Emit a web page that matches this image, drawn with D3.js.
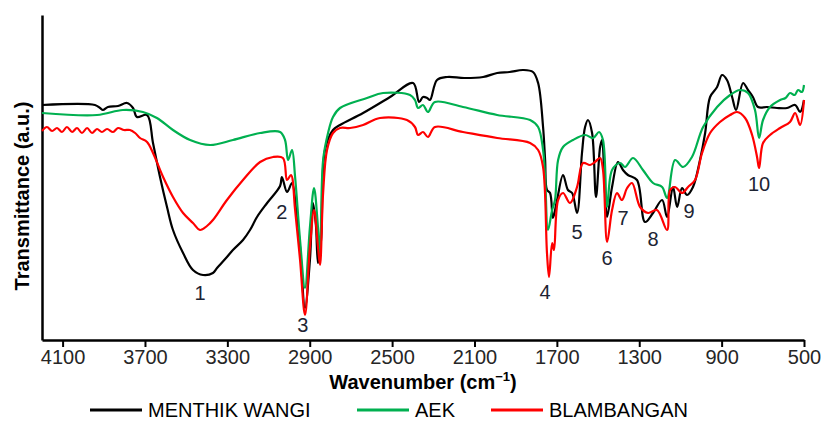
<!DOCTYPE html>
<html>
<head>
<meta charset="utf-8">
<script src="https://cdn.jsdelivr.net/npm/d3@7"></script>
<style>
body { margin: 0; background: #fff; }
text { font-family: "Liberation Sans", Arial, sans-serif; }
</style>
</head>
<body>
<svg id="chart" width="823" height="430"></svg>
<script>
// FTIR spectra of three samples : wavenumber (cm-1) vs transmittance (a.u.)

var seriesNames = ["MENTHIK WANGI", "AEK", "BLAMBANGAN"];
var seriesColors = ["#000000", "#00b050", "#ff0000"];
var xTicks = [4100, 3700, 3300, 2900, 2500, 2100, 1700, 1300, 900, 500];

// [wavenumber, transmittance a.u.]
var menthikWangi = [
  [4200,47.0],[3943,47.0],[3918,46.4],[3904,46.0],[3880,46.6],[3831,46.8],[3787,47.4],
  [3758,46.4],[3739,44.6],[3690,45.0],[3661,39.4],[3627,32.6],[3593,26.6],[3564,22.0],
  [3515,17.4],[3467,14.0],[3418,13.0],[3370,13.4],[3350,14.4],[3302,16.6],[3273,18.0],
  [3224,20.0],[3190,22.0],[3156,24.6],[3107,27.4],[3044,30.8],[3035,32.6],[3010,29.6],
  [2986,31.4],[2966,26.0],[2947,18.6],[2923,6.4],[2899,16.0],[2884,27.4],[2870,23.0],
  [2860,15.4],[2845,20.0],[2826,38.0],[2787,42.0],[2753,43.0],[2641,45.4],[2510,48.6],
  [2398,51.4],[2369,47.6],[2350,48.6],[2330,48.4],[2316,48.0],[2282,52.0],[2233,52.6],
  [2150,52.4],[2058,52.6],[1990,53.4],[1930,53.6],[1864,54.0],[1816,53.6],[1791,51.4],
  [1767,42.6],[1757,36.0],[1748,30.0],[1733,29.4],[1719,24.4],[1699,28.0],[1670,33.0],
  [1646,30.0],[1626,29.4],[1602,25.4],[1578,37.4],[1563,42.6],[1549,44.0],[1529,41.4],
  [1510,28.6],[1490,38.6],[1481,40.0],[1466,29.4],[1456,24.6],[1432,30.6],[1403,35.6],
  [1379,34.0],[1355,33.0],[1311,32.0],[1272,23.6],[1233,25.4],[1189,28.0],[1165,24.6],
  [1136,30.6],[1116,26.6],[1092,30.4],[1068,29.0],[1039,30.6],[1005,36.0],[980,41.4],
  [956,48.6],[922,50.6],[898,53.0],[874,52.0],[849,48.6],[830,46.0],[796,51.4],
  [772,50.0],[748,48.6],[723,46.6],[679,46.6],[631,46.4],[582,46.4],[543,47.0],
  [519,45.6],[500,48.0]
];

var aek = [
  [4200,45.4],[3933,45.0],[3807,46.0],[3710,45.6],[3642,44.4],[3564,42.0],[3481,40.0],
  [3384,39.0],[3273,40.0],[3141,41.4],[3044,41.6],[3020,40.0],[3005,36.0],[2986,38.0],
  [2971,32.6],[2947,20.0],[2923,10.4],[2899,22.6],[2879,30.4],[2860,22.6],[2850,17.0],
  [2835,36.0],[2811,41.4],[2787,44.6],[2753,46.4],[2622,48.4],[2544,49.4],[2413,49.0],
  [2389,48.0],[2374,46.4],[2350,47.0],[2326,45.6],[2292,47.6],[2156,46.6],[1990,45.0],
  [1830,44.0],[1791,42.6],[1767,38.0],[1757,32.6],[1743,22.0],[1723,26.0],[1709,28.0],
  [1694,36.0],[1670,38.6],[1622,40.0],[1563,41.0],[1524,40.4],[1495,41.6],[1476,40.0],
  [1456,26.6],[1432,34.0],[1393,35.4],[1369,34.6],[1330,36.4],[1282,34.0],[1233,31.4],
  [1189,30.6],[1165,28.4],[1126,36.0],[1087,34.6],[1044,36.6],[990,42.6],[922,46.6],
  [859,49.0],[811,50.0],[772,49.4],[738,46.0],[718,40.4],[699,44.0],[665,46.6],
  [616,48.0],[590,48.4],[568,49.4],[545,49.0],[529,50.0],[510,49.6],[500,51.0]
];

var blambangan = [
  [4200,41.8],[4176,42.6],[4151,41.8],[4127,42.4],[4103,41.6],[4079,42.6],[4054,41.6],
  [4030,42.4],[4006,41.4],[3981,42.4],[3957,41.4],[3933,42.2],[3909,41.6],[3884,42.2],
  [3855,41.6],[3831,42.4],[3802,42.0],[3773,42.0],[3748,41.4],[3724,40.4],[3690,39.6],
  [3661,37.4],[3612,32.6],[3564,28.6],[3515,25.4],[3467,23.4],[3433,22.0],[3399,22.8],
  [3370,24.0],[3302,28.0],[3224,32.0],[3141,35.6],[3078,36.6],[3030,36.4],[3010,32.0],
  [2991,33.0],[2971,26.0],[2947,16.0],[2923,5.0],[2899,18.6],[2879,26.0],[2860,18.6],
  [2850,15.0],[2835,29.4],[2816,38.0],[2787,41.4],[2753,42.4],[2704,42.4],[2641,43.0],
  [2559,44.4],[2428,44.0],[2389,42.6],[2374,41.0],[2350,41.6],[2326,40.6],[2292,42.6],
  [2156,41.6],[1990,40.4],[1830,39.4],[1791,38.0],[1767,34.6],[1748,17.4],[1738,12.6],
  [1723,19.4],[1714,18.0],[1694,28.0],[1670,29.4],[1636,27.4],[1602,30.6],[1573,35.4],
  [1539,35.0],[1515,35.6],[1490,36.4],[1476,34.0],[1456,19.6],[1432,26.0],[1408,29.4],
  [1384,28.0],[1359,30.4],[1335,31.4],[1296,26.6],[1257,25.4],[1214,26.0],[1165,22.0],
  [1150,30.0],[1126,30.6],[1092,29.4],[1063,30.6],[1029,32.0],[995,37.4],[956,41.4],
  [908,43.6],[859,45.0],[825,45.6],[786,44.4],[752,41.0],[728,36.6],[718,34.4],
  [699,39.4],[665,41.0],[616,42.4],[568,43.6],[543,45.4],[519,43.0],[500,48.0]
];

var peakLabels = ["1", "2", "3", "4", "5", "6", "7", "8", "9", "10"];
var peakPos = [[3433,9.4],[3035,25.6],[2933,3.0],[1757,9.6],[1602,21.6],
               [1456,16.4],[1379,24.4],[1233,20.2],[1058,25.8],[718,31.2]];

var svg = d3.select("#chart");

var x = d3.scaleLinear().domain([4200, 500]).range([42, 804]);
var y = d3.scaleLinear().domain([0, 65]).range([340, 15]);

// axes
var xAxis = svg.append("g")
    .attr("transform", "translate(0,340)")
    .call(d3.axisBottom(x).tickValues(xTicks).tickFormat(d3.format("d"))
          .tickSize(7).tickSizeOuter(0).tickPadding(3));
xAxis.select(".domain").attr("stroke", "#000").attr("stroke-width", 2.5);
xAxis.selectAll(".tick line").attr("stroke", "#000").attr("stroke-width", 2);
xAxis.selectAll(".tick text").attr("font-size", 20).attr("fill", "#262626")
    .style("font-family", "'Liberation Sans', Arial, sans-serif");

var yAxis = svg.append("g")
    .attr("transform", "translate(42,0)")
    .call(d3.axisLeft(y).tickValues([]).tickSizeOuter(0));
yAxis.select(".domain").attr("stroke", "#000").attr("stroke-width", 2.5);

// axis titles
var xt = svg.append("text")
    .attr("x", 423).attr("y", 389)
    .attr("text-anchor", "middle")
    .attr("font-size", 20).attr("font-weight", "bold").attr("fill", "#000");
xt.append("tspan").text("Wavenumber (cm");
xt.append("tspan").text("\u22121").attr("font-size", 13).attr("dy", -8);
xt.append("tspan").text(")").attr("dy", 8);

svg.append("text")
    .attr("transform", "translate(29,196) rotate(-90)")
    .attr("text-anchor", "middle")
    .attr("font-size", 20).attr("font-weight", "bold").attr("fill", "#000")
    .text("Transmittance (a.u.)");

// spectra
var line = d3.line()
    .curve(d3.curveCatmullRom.alpha(0.5))
    .x(function(d) { return x(d[0]); })
    .y(function(d) { return y(d[1]); });

var allSeries = [menthikWangi, aek, blambangan];
allSeries.forEach(function(s, i) {
    svg.append("path")
        .datum(s)
        .attr("fill", "none")
        .attr("stroke", seriesColors[i])
        .attr("stroke-width", 2.2)
        .attr("stroke-linejoin", "round")
        .attr("d", line);
});

// peak numbers
svg.selectAll(".peak")
    .data(peakLabels)
    .enter().append("text")
    .attr("class", "peak")
    .attr("x", function(d, i) { return x(peakPos[i][0]); })
    .attr("y", function(d, i) { return y(peakPos[i][1]); })
    .attr("dy", "0.36em")
    .attr("text-anchor", "middle")
    .attr("font-size", 20)
    .attr("fill", "#1d2433")
    .text(function(d) { return d; });

// legend
var legendX = [90, 357, 491];
var legendY = 410;
seriesNames.forEach(function(name, i) {
    svg.append("line")
        .attr("x1", legendX[i]).attr("x2", legendX[i] + 52)
        .attr("y1", legendY).attr("y2", legendY)
        .attr("stroke", seriesColors[i]).attr("stroke-width", 3);
    svg.append("text")
        .attr("x", legendX[i] + 58).attr("y", legendY)
        .attr("dy", "0.36em")
        .attr("font-size", 20).attr("fill", "#000")
        .text(name);
});
</script>
</body>
</html>
